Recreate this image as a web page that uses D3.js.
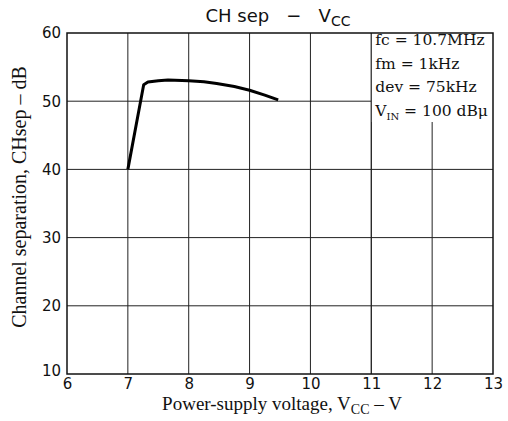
<!DOCTYPE html>
<html lang="en">
<head>
<meta charset="UTF-8">
<title>CH sep - VCC</title>
<script src="https://d3js.org/d3.v7.min.js"></script>
<style>
  body { margin: 0; background: #fff; }
  .tick text { font-family: "DejaVu Sans", sans-serif; }
</style>
</head>
<body>
<div id="container"></div>
<script>
// curve
var vcc = [7.0, 7.26, 7.33, 7.5, 7.66, 8.0, 8.25, 8.46, 8.75, 9.0, 9.25, 9.47];
var chsep = [40.0, 52.4, 52.8, 53.0, 53.1, 53.0, 52.85, 52.6, 52.15, 51.6, 50.9, 50.2];
var xTicks = [6, 7, 8, 9, 10, 11, 12, 13];
var yTicks = [10, 20, 30, 40, 50, 60];
var conditions = ["fc = 10.7MHz", "fm = 1kHz", "dev = 75kHz", "V_IN = 100 dBμ"];

var width = 508, height = 421;
var m = { left: 67, right: 15, top: 33, bottom: 47 };

var svg = d3.select("#container").append("svg")
    .attr("width", width)
    .attr("height", height);

var x = d3.scaleLinear().domain([6, 13]).range([m.left, width - m.right]);
var y = d3.scaleLinear().domain([10, 60]).range([height - m.bottom, m.top]);

// grid
svg.append("g").selectAll("line").data(xTicks.slice(1, -1)).enter().append("line")
    .attr("x1", d => x(d)).attr("x2", d => x(d))
    .attr("y1", y(60)).attr("y2", y(10))
    .attr("stroke", "#222").attr("stroke-width", 1);
svg.append("g").selectAll("line").data(yTicks.slice(1, -1)).enter().append("line")
    .attr("x1", x(6)).attr("x2", x(13))
    .attr("y1", d => y(d)).attr("y2", d => y(d))
    .attr("stroke", "#222").attr("stroke-width", 1);

// conditions box (white patch over the grid)
svg.append("rect")
    .attr("x", x(11)).attr("y", y(60))
    .attr("width", x(13) - x(11)).attr("height", 89)
    .attr("fill", "#fff");
svg.append("line")
    .attr("x1", x(11)).attr("x2", x(11))
    .attr("y1", y(60)).attr("y2", y(10))
    .attr("stroke", "#222").attr("stroke-width", 1);

var cond = svg.append("g").attr("font-family", "'DejaVu Serif', serif")
    .attr("font-size", 15.5).attr("fill", "#111");
conditions.forEach(function (c, i) {
    var t = cond.append("text").attr("x", x(11) + 4).attr("y", 45 + i * 23.5);
    if (c.indexOf("V_IN") === 0) {
        t.append("tspan").text("V");
        t.append("tspan").attr("font-size", 10).attr("dy", 4).text("IN");
        t.append("tspan").attr("dy", -4).text(c.slice(4));
    } else {
        t.text(c);
    }
});

// frame
svg.append("rect")
    .attr("x", x(6)).attr("y", y(60))
    .attr("width", x(13) - x(6)).attr("height", y(10) - y(60))
    .attr("fill", "none").attr("stroke", "#111").attr("stroke-width", 1.5);

// axes (labels only)
var xAxis = svg.append("g").attr("transform", "translate(0," + y(10) + ")")
    .call(d3.axisBottom(x).tickValues(xTicks).tickFormat(d3.format("d")).tickSize(0).tickPadding(4));
var yAxis = svg.append("g").attr("transform", "translate(" + x(6) + ",0)")
    .call(d3.axisLeft(y).tickValues(yTicks).tickFormat(d3.format("d")).tickSize(0).tickPadding(6));
[xAxis, yAxis].forEach(function (g) {
    g.select(".domain").remove();
    g.selectAll("text").attr("font-size", 15).attr("fill", "#111");
});
yAxis.selectAll(".tick").filter(d => d === 10).select("text").attr("dy", "0.1em");

// curve
var line = d3.line().x(d => x(d[0])).y(d => y(d[1])).curve(d3.curveLinear);
svg.append("path")
    .datum(vcc.map((v, i) => [v, chsep[i]]))
    .attr("d", line)
    .attr("fill", "none").attr("stroke", "#000").attr("stroke-width", 3)
    .attr("stroke-linejoin", "round");

// title
var title = svg.append("text").attr("x", 278).attr("y", 22)
    .attr("text-anchor", "middle")
    .attr("font-family", "'DejaVu Sans', sans-serif").attr("font-size", 18).attr("fill", "#111");
title.append("tspan").text("CH sep\u00a0\u00a0\u00a0\u2212\u00a0\u00a0\u00a0V");
title.append("tspan").attr("font-size", 14).attr("dy", 4).text("CC");

// x label
var xl = svg.append("text").attr("x", 282).attr("y", 410)
    .attr("text-anchor", "middle")
    .attr("font-family", "'Liberation Serif', serif").attr("font-size", 19).attr("fill", "#111");
xl.append("tspan").text("Power-supply voltage, V");
xl.append("tspan").attr("font-size", 14).attr("dy", 4).text("CC");
xl.append("tspan").attr("dy", -4).text(" \u2013 V");

// y label
svg.append("text")
    .attr("transform", "translate(26," + 197 + ") rotate(-90)")
    .attr("text-anchor", "middle")
    .attr("font-family", "'Liberation Serif', serif").attr("font-size", 20).attr("fill", "#111")
    .text("Channel separation, CHsep \u2013 dB");
</script>
</body>
</html>
